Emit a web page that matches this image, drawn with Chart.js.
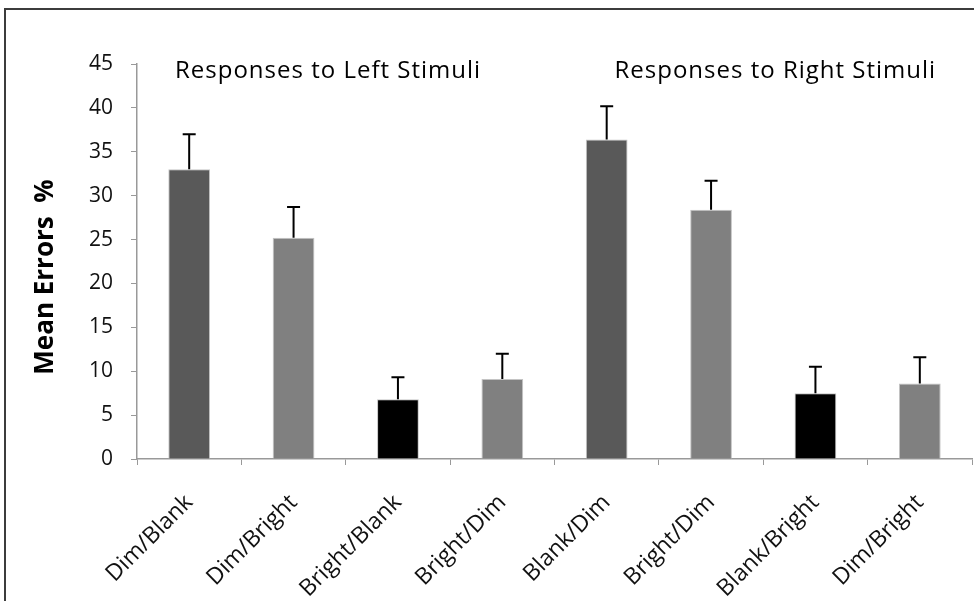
<!DOCTYPE html>
<html>
<head>
<meta charset="utf-8">
<script src="https://cdn.jsdelivr.net/npm/chart.js@4"></script>
<style>
  html, body { margin: 0; padding: 0; background: #fff; }
  #wrap { width: 974px; height: 601px; }
</style>
</head>
<body>
<div id="wrap"><canvas id="barChart" width="974" height="601"></canvas></div>
<script>
// chart values
var categories = ["Dim/Blank", "Dim/Bright", "Bright/Blank", "Bright/Dim", "Blank/Dim", "Bright/Dim", "Blank/Bright", "Dim/Bright"];
var meanErrors = [33.0, 25.2, 6.8, 9.1, 36.4, 28.4, 7.5, 8.6];
var errorBars = [4.0, 3.5, 2.5, 2.9, 3.8, 3.3, 3.0, 3.0];
var barColours = ["#595959", "#808080", "#000000", "#808080", "#595959", "#808080", "#000000", "#808080"];
var yTicks = [0, 5, 10, 15, 20, 25, 30, 35, 40, 45];
var panelTitles = ["Responses to Left Stimuli", "Responses to Right Stimuli"];
var yAxisTitle = "Mean Errors  %";

var FONT = "'Open Sans', sans-serif";

// white background + the outer frame of the figure
var framePlugin = {
  id: "frame",
  beforeDraw: function (chart) {
    var ctx = chart.ctx;
    ctx.save();
    ctx.fillStyle = "#fff";
    ctx.fillRect(0, 0, chart.width, chart.height);
    ctx.strokeStyle = "#3c3c3c";
    ctx.lineWidth = 2;
    ctx.beginPath();
    ctx.moveTo(5, chart.height);
    ctx.lineTo(5, 9);
    ctx.lineTo(chart.width, 9);
    ctx.stroke();
    ctx.restore();
  }
};

// upper error bars (mean + error)
var errorBarPlugin = {
  id: "errorBars",
  afterDatasetsDraw: function (chart) {
    var ctx = chart.ctx;
    var yScale = chart.scales.y;
    var meta = chart.getDatasetMeta(0);
    ctx.save();
    ctx.strokeStyle = "#000";
    ctx.lineWidth = 2;
    meta.data.forEach(function (bar, i) {
      var top = yScale.getPixelForValue(meanErrors[i] + errorBars[i]);
      var base = yScale.getPixelForValue(meanErrors[i]);
      ctx.beginPath();
      ctx.moveTo(bar.x, base);
      ctx.lineTo(bar.x, top);
      ctx.moveTo(bar.x - 6.5, top);
      ctx.lineTo(bar.x + 6.5, top);
      ctx.stroke();
    });
    ctx.restore();
  }
};

// panel headings and the y axis title
var labelsPlugin = {
  id: "labels",
  afterDraw: function (chart) {
    var ctx = chart.ctx;
    var xScale = chart.scales.x;
    var yScale = chart.scales.y;
    var step = (xScale.right - xScale.left) / categories.length;
    ctx.save();
    ctx.fillStyle = "#000";
    ctx.font = "24px " + FONT;
    ctx.letterSpacing = "1px";
    ctx.textBaseline = "alphabetic";
    ctx.textAlign = "left";
    var ty = yScale.getPixelForValue(43.4);
    ctx.fillText(panelTitles[0], xScale.left + 38, ty);
    ctx.fillText(panelTitles[1], xScale.left + 4 * step + 60, ty);

    ctx.font = "bold 26px " + FONT;
    ctx.letterSpacing = "0px";
    ctx.textBaseline = "middle";
    ctx.translate(46, 277);
    ctx.rotate(-Math.PI / 2);
    ctx.textAlign = "center";
    ctx.fillText(yAxisTitle, 0, 0);
    ctx.restore();
  }
};

var ctx = document.getElementById("barChart").getContext("2d");
var chart = new Chart(ctx, {
  type: "bar",
  data: {
    labels: categories,
    datasets: [
      {
        data: meanErrors,
        backgroundColor: barColours,
        borderColor: "#c4c4c4",
        borderWidth: 1,
        categoryPercentage: 1,
        barPercentage: 0.4
      }
    ]
  },
  options: {
    responsive: false,
    animation: false,
    devicePixelRatio: 1,
    layout: { padding: { top: 64, right: 2, left: 0, bottom: 0 } },
    plugins: {
      legend: { display: false },
      tooltip: { enabled: false }
    },
    scales: {
      x: {
        afterFit: function (scale) { scale.height = 142; },
        grid: { drawOnChartArea: false, drawTicks: true, tickLength: 6, color: "#999", offset: true },
        border: { display: true, color: "#999", width: 1.5 },
        ticks: {
          autoSkip: false,
          maxRotation: 45,
          minRotation: 45,
          padding: 24,
          color: "#111",
          font: { family: FONT, size: 23 }
        }
      },
      y: {
        min: 0,
        max: 45,
        afterFit: function (scale) { scale.width = 137; },
        afterBuildTicks: function (scale) {
          scale.ticks = yTicks.map(function (v) { return { value: v }; });
        },
        grid: { drawOnChartArea: false, drawTicks: true, tickLength: 6, color: "#999" },
        border: { display: true, color: "#999", width: 1.5 },
        ticks: {
          padding: 18,
          color: "#111",
          font: { family: FONT, size: 21 }
        }
      }
    }
  },
  plugins: [framePlugin, errorBarPlugin, labelsPlugin]
});
</script>
</body>
</html>
